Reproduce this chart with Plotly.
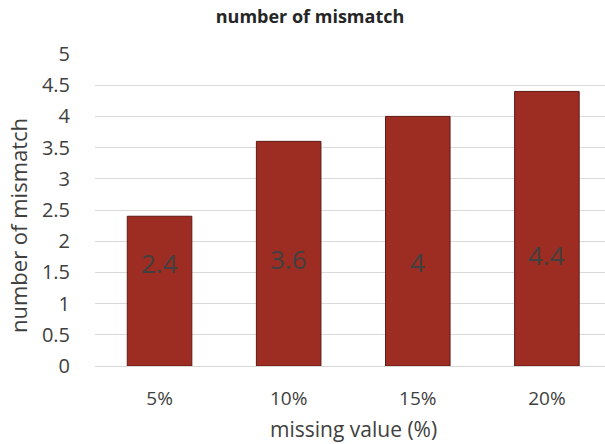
import plotly.graph_objects as go

categories = ["5%", "10%", "15%", "20%"]
mismatch = [2.4, 3.6, 4, 4.4]
label_height = [1.65, 1.71, 1.67, 1.78]

FONT = "'Open Sans', sans-serif"
TEXT = "#404040"

fig = go.Figure()

fig.add_trace(
    go.Bar(
        x=categories,
        y=mismatch,
        width=0.5,
        marker=dict(color="#9d2c22", line=dict(color="#5e1a14", width=1)),
        hoverinfo="x+y",
    )
)

# value labels sit low inside each bar, as in the original
for cat, val, h in zip(categories, mismatch, label_height):
    fig.add_annotation(
        x=cat, y=h, text=f"{val:g}", showarrow=False,
        font=dict(size=26, color=TEXT, family=FONT),
    )

fig.update_layout(
    width=605,
    height=444,
    margin=dict(l=95, r=0, t=54, b=78),
    paper_bgcolor="white",
    plot_bgcolor="white",
    font=dict(family=FONT, color=TEXT),
    showlegend=False,
    title=dict(
        text="<b>number of mismatch</b>",
        x=310 / 605, xanchor="center", y=1 - 17 / 444, yanchor="middle",
        font=dict(size=18, color="#262626", family=FONT),
    ),
)

fig.update_xaxes(
    range=[-0.5, 3.45],
    showgrid=False,
    showline=True,
    linecolor="#d9d9d9",
    ticks="outside",
    ticklen=15,
    tickcolor="white",
    tickfont=dict(size=19, color=TEXT),
)

fig.update_yaxes(
    range=[0, 5],
    dtick=0.5,
    gridcolor="#d9d9d9",
    zeroline=False,
    ticks="outside",
    ticklen=20,
    tickcolor="white",
    tickfont=dict(size=20, color=TEXT),
)

fig.add_annotation(
    xref="paper", yref="paper", x=(353 - 95) / 510, y=-(429 - 366) / 312,
    xanchor="center", yanchor="middle",
    text="missing value (%)", showarrow=False,
    font=dict(size=21, color=TEXT, family=FONT),
)

fig.add_annotation(
    xref="paper", yref="paper", x=-(95 - 18) / 510, y=(366 - 226) / 312,
    xanchor="center", yanchor="middle",
    text="number of mismatch", textangle=-90, showarrow=False,
    font=dict(size=22, color=TEXT, family=FONT),
)

fig.write_html(
    "out.html",
    config={"displayModeBar": False},
    post_script="document.body.style.margin='0';",
)
